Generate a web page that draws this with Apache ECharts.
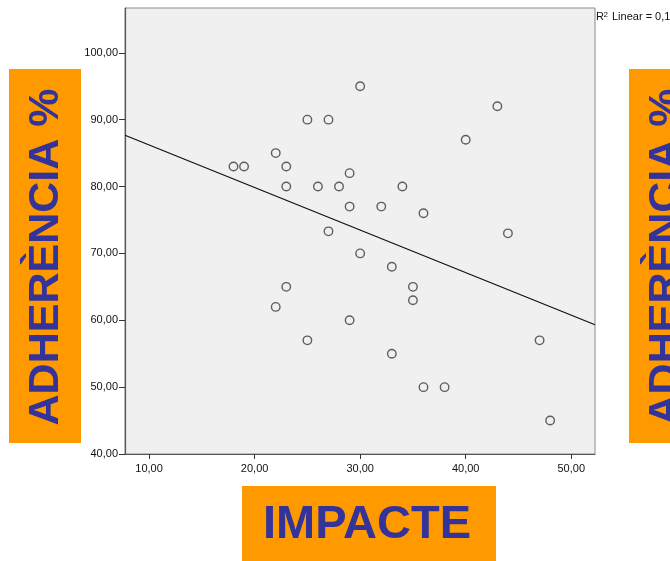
<!DOCTYPE html>
<html>
<head>
<meta charset="utf-8">
<script src="https://cdn.jsdelivr.net/npm/echarts@6/dist/echarts.min.js"></script>
<style>
html,body{margin:0;padding:0;background:#fff;}
#chart{width:670px;height:561px;}
</style>
</head>
<body>
<div id="chart"></div>
<script>
// Data
var impacte = [30,25,27,43,40,22,18,19,23,29,23,26,28,34,29,32,36,27,44,30,33,23,35,22,35,29,25,47,33,36,38,48];
var adherencia = [95,90,90,92,87,85,83,83,83,82,80,80,80,80,77,77,76,73.3,73,70,68,65,65,62,63,60,57,57,55,50,50,45];
var xTicks = [10,20,30,40,50];
var yTicks = [40,50,60,70,80,90,100];
var xRange = [7.72, 52.25];
var yRange = [40, 106.7];
var xTitle = 'IMPACTE';
var yTitle = 'ADHERÈNCIA %';

// least squares fit
var n = impacte.length, sx = 0, sy = 0;
for (var i = 0; i < n; i++) { sx += impacte[i]; sy += adherencia[i]; }
var mx = sx / n, my = sy / n, sxx = 0, sxy = 0, syy = 0;
for (var i = 0; i < n; i++) {
  var dx = impacte[i] - mx, dy = adherencia[i] - my;
  sxx += dx * dx; sxy += dx * dy; syy += dy * dy;
}
var slope = sxy / sxx, intercept = my - slope * mx;
var r2 = (sxy * sxy) / (sxx * syy);
var fitLine = [[xRange[0], intercept + slope * xRange[0]], [xRange[1], intercept + slope * xRange[1]]];
var points = impacte.map(function (x, i) { return [x, adherencia[i]]; });

function fmt(v) { return v.toFixed(2).replace('.', ','); }

var FONT = "'Liberation Sans', Arial, sans-serif";
var ORANGE = '#FF9900';
var BLUE = '#333399';

var chart = echarts.init(document.getElementById('chart'), null, {renderer: 'canvas'});
chart.setOption({
  animation: false,
  backgroundColor: '#ffffff',
  grid: {
    left: 125, right: 75, top: 8, bottom: 107,
    show: true, backgroundColor: '#F0F0F0', borderColor: '#8c8c8c', borderWidth: 1
  },
  xAxis: {
    type: 'value', min: xRange[0], max: xRange[1],
    axisLine: {show: true, onZero: false, lineStyle: {color: '#555', width: 1.2}},
    axisTick: {show: true, length: 5, customValues: xTicks, lineStyle: {color: '#333'}},
    axisLabel: {customValues: xTicks, formatter: fmt, fontFamily: FONT, fontSize: 11, color: '#111', margin: 9},
    splitLine: {show: false}
  },
  yAxis: {
    type: 'value', min: yRange[0], max: yRange[1],
    axisLine: {show: true, onZero: false, lineStyle: {color: '#555', width: 1.2}},
    axisTick: {show: true, length: 6, customValues: yTicks, lineStyle: {color: '#333'}},
    axisLabel: {customValues: yTicks, formatter: fmt, fontFamily: FONT, fontSize: 11, color: '#111', margin: 7},
    splitLine: {show: false}
  },
  series: [
    {
      type: 'line', data: fitLine, symbol: 'none', silent: true,
      lineStyle: {color: '#111', width: 1.3}, z: 2
    },
    {
      type: 'scatter', data: points, symbol: 'circle', symbolSize: 8.5,
      itemStyle: {color: 'rgba(0,0,0,0)', borderColor: '#3a3a3a', borderWidth: 1.4}, z: 3
    }
  ],
  graphic: [
    {type: 'rect', shape: {x: 9, y: 69, width: 72, height: 374}, style: {fill: ORANGE}, z: 1},
    {type: 'text', x: 46, y: 257, rotation: Math.PI / 2,
      style: {text: yTitle, font: 'bold 43px ' + FONT, fill: BLUE, textAlign: 'center', textVerticalAlign: 'middle'}, z: 2},
    {type: 'rect', shape: {x: 629, y: 69, width: 72, height: 374}, style: {fill: ORANGE}, z: 1},
    {type: 'text', x: 666, y: 257, rotation: Math.PI / 2,
      style: {text: yTitle, font: 'bold 43px ' + FONT, fill: BLUE, textAlign: 'center', textVerticalAlign: 'middle'}, z: 2},
    {type: 'rect', shape: {x: 242, y: 486, width: 254, height: 80}, style: {fill: ORANGE}, z: 1},
    {type: 'text', x: 367, y: 525,
      style: {text: xTitle, font: 'bold 47px ' + FONT, fill: BLUE, textAlign: 'center', textVerticalAlign: 'middle'}, z: 2},
    {type: 'text', x: 596, y: 11.5,
      style: {text: 'R', font: '11px ' + FONT, fill: '#111', textAlign: 'left', textVerticalAlign: 'top'}, z: 2},
    {type: 'text', x: 603.5, y: 10.5,
      style: {text: '2', font: '8px ' + FONT, fill: '#111', textAlign: 'left', textVerticalAlign: 'top'}, z: 2},
    {type: 'text', x: 612, y: 11.5,
      style: {text: 'Linear = ' + r2.toFixed(3).replace('.', ','), font: '11px ' + FONT, fill: '#111', textAlign: 'left', textVerticalAlign: 'top'}, z: 2}
  ]
});
</script>
</body>
</html>
